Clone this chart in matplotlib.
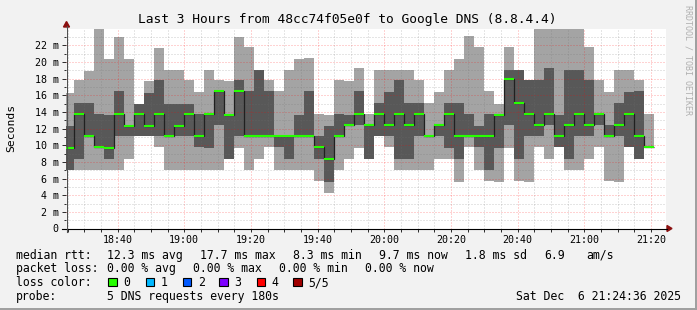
import numpy as np
import matplotlib
matplotlib.use("Agg")
import matplotlib.pyplot as plt
from matplotlib.patches import Rectangle, Polygon
from matplotlib.lines import Line2D

# ---------------- data ----------------
title = "Last 3 Hours from 48cc74f05e0f to Google DNS (8.8.4.4)"
window_start = "18:24:36"      # left edge of the graph
window_minutes = 180
first_step_start = "18:24:00"  # start of first (partially visible) 180 s step
step_minutes = 3

# five sorted DNS round-trip times per 180 s step, in ms (ping3 = median)
ping1 = [7.0, 7.0, 7.0, 7.0, 7.0, 7.0, 8.4, 11.1, 11.1, 9.8,
         7.0, 7.0, 7.0, 7.0, 7.0, 7.0, 8.4, 9.7, 7.0, 8.4,
         9.8, 7.0, 7.0, 7.0, 7.0, 5.7, 4.3, 7.0, 8.4, 9.7,
         8.4, 11.1, 9.8, 7.0, 7.0, 7.0, 7.0, 8.4, 8.4, 5.6,
         9.8, 7.0, 5.7, 5.6, 9.7, 5.7, 5.6, 9.8, 8.4, 9.8,
         7.0, 7.0, 8.4, 9.8, 5.7, 5.6, 9.8, 8.4, 9.8]
ping2 = [7.0, 8.4, 11.1, 9.8, 8.4, 11.1, 11.1, 11.1, 11.1, 11.1,
         11.1, 11.1, 11.1, 9.8, 9.7, 12.4, 8.4, 11.1, 11.1, 11.1,
         11.1, 9.8, 8.4, 11.1, 11.1, 8.4, 5.6, 11.1, 12.4, 12.4,
         8.4, 11.1, 11.1, 8.4, 8.4, 11.1, 11.1, 11.1, 9.7, 8.4,
         11.1, 9.8, 7.0, 9.7, 12.4, 8.4, 11.1, 11.1, 12.4, 9.8,
         8.4, 11.1, 11.1, 12.4, 11.1, 11.1, 9.8, 8.4, 9.8]
ping3 = [9.7, 13.8, 11.1, 9.8, 9.7, 13.8, 12.3, 13.8, 12.3, 13.8,
         11.1, 12.3, 13.8, 11.1, 13.7, 16.5, 13.6, 16.5, 11.1, 11.1,
         11.1, 11.1, 11.1, 11.1, 11.1, 9.8, 8.4, 11.1, 12.4, 13.8,
         12.4, 13.8, 12.4, 13.8, 12.4, 13.8, 11.1, 12.4, 13.8, 11.1,
         11.1, 11.1, 11.1, 13.6, 17.9, 15.1, 13.8, 12.4, 13.8, 11.1,
         12.4, 13.8, 12.4, 13.8, 11.1, 12.4, 13.8, 11.1, 9.8]
ping4 = [12.3, 15.1, 15.1, 13.7, 13.6, 16.5, 12.3, 15.0, 16.3, 17.8,
         15.0, 15.0, 15.0, 13.8, 13.7, 16.5, 13.6, 17.8, 16.5, 19.0,
         16.5, 11.1, 11.1, 13.6, 16.5, 11.1, 12.3, 13.8, 13.6, 16.5,
         12.4, 15.1, 16.4, 17.8, 15.1, 15.1, 11.1, 12.4, 15.1, 15.1,
         13.8, 12.3, 13.8, 13.6, 19.0, 19.0, 17.8, 17.8, 19.3, 13.6,
         19.0, 19.0, 17.8, 13.8, 12.4, 15.1, 16.4, 16.5, 9.8]
ping5 = [16.3, 17.8, 18.9, 25.0, 20.3, 23.0, 20.4, 15.0, 17.7, 21.7,
         19.0, 19.0, 17.8, 16.4, 19.0, 17.8, 17.7, 23.0, 21.8, 19.0,
         17.8, 16.5, 19.0, 20.4, 20.5, 13.8, 13.6, 17.8, 17.7, 19.3,
         13.8, 19.0, 19.0, 19.0, 19.0, 17.8, 15.1, 16.4, 19.0, 20.4,
         23.1, 21.8, 16.5, 15.0, 21.8, 19.0, 17.8, 25.0, 25.0, 25.0,
         25.0, 25.0, 21.8, 17.8, 16.4, 19.0, 19.0, 17.8, 13.8]

time_labels = ["18:40", "19:00", "19:20", "19:40", "20:00",
               "20:20", "20:40", "21:00", "21:20"]
y_ticks = [0, 2, 4, 6, 8, 10, 12, 14, 16, 18, 20, 22]
y_tick_labels = ["0", "2 m", "4 m", "6 m", "8 m", "10 m", "12 m",
                 "14 m", "16 m", "18 m", "20 m", "22 m"]
y_max = 24

rtt_line = ["median rtt:", "12.3 ms avg", "17.7 ms max", "8.3 ms min",
            "9.7 ms now", "1.8 ms sd", "6.9", "am/s"]
loss_line = ["packet loss:", "0.00 % avg", "0.00 % max", "0.00 % min", "0.00 % now"]
loss_labels = ["0", "1", "2", "3", "4", "5/5"]
loss_colors = ["#26ff00", "#00b8ff", "#0059ff", "#7e00ff", "#ff0000", "#a10000"]
probe_text = "5 DNS requests every 180s"
date_text = "Sat Dec  6 21:24:36 2025"
side_text = "RRDTOOL / TOBI OETIKER"

# ---------------- helpers ----------------
def to_min(hhmm):
    parts = [int(p) for p in hhmm.split(":")]
    while len(parts) < 3:
        parts.append(0)
    return (parts[0] - 18) * 60 + parts[1] + parts[2] / 60.0

W, H = 697, 310
def fx(px): return px / W
def fy(py): return 1 - py / H

plt.rcParams['font.family'] = ['DejaVu Sans Mono']

fig = plt.figure(figsize=(W / 100, H / 100), dpi=100, facecolor="#f2f2f2")

x0 = to_min(window_start)
plot_left, plot_w = 66.17, 600.0
y_bot, px_per_ms = 228.5, 8.333
ax = fig.add_axes([fx(plot_left), fy(y_bot), plot_w / W, y_max * px_per_ms / H])
ax.set_xlim(x0, x0 + window_minutes)
ax.set_ylim(0, y_max)
ax.set_facecolor("white")
for s in ax.spines.values():
    s.set_visible(False)

n = len(ping3)
edges = to_min(first_step_start) + step_minutes * np.arange(n + 1)

# smoke
ax.stairs(ping5, edges, baseline=ping1, fill=True, color="#a4a4a4",
          lw=0, antialiased=False, zorder=1)
ax.stairs(ping4, edges, baseline=ping2, fill=True, color="#585858",
          lw=0, antialiased=False, zorder=1.1)

# grid
dot = (0, (1, 2))
gx_minor = np.arange(25, x0 + window_minutes, 5)
major_x = [to_min(t) for t in time_labels]
for m in gx_minor:
    if any(abs(m - mm) < 1e-6 for mm in major_x):
        continue
    ax.axvline(m, color="#707070", alpha=0.35, lw=0.72, ls=dot, zorder=2)
for m in major_x:
    ax.axvline(m, color="#ff0000", alpha=0.35, lw=0.72, ls=dot, zorder=2)
for v in range(1, y_max):
    if v % 2:
        ax.axhline(v, color="#707070", alpha=0.35, lw=0.72, ls=dot, zorder=2)
    else:
        ax.axhline(v, color="#ff0000", alpha=0.35, lw=0.72, ls=dot, zorder=2)

# median
ax.stairs(ping3, edges, baseline=None, color="#202020", lw=0.9, zorder=3)
ax.hlines(ping3, edges[:-1], edges[1:], colors=loss_colors[0], lw=1.5, zorder=4)

# ticks
ax.set_xticks(major_x)
ax.set_xticklabels(time_labels)
ax.set_xticks(gx_minor, minor=True)
ax.set_yticks(y_ticks)
ax.set_yticklabels(y_tick_labels)
ax.set_yticks(range(1, y_max, 2), minor=True)
ax.tick_params(axis="x", which="both", length=2, width=0.72, color="#303030",
               labelsize=7.2, pad=2.5, direction="out")
ax.tick_params(axis="y", which="major", length=3, width=0.72, color="#303030",
               labelsize=7.2, pad=2.5, direction="out")
ax.tick_params(axis="y", which="minor", length=1.5, width=0.72, color="#303030",
               direction="out")

# axes lines and arrows
fig.add_artist(Line2D([fx(62), fx(667)], [fy(228.5), fy(228.5)], color="#000000", lw=0.8))
fig.add_artist(Line2D([fx(66.5), fx(66.5)], [fy(232), fy(26)], color="#505050", lw=0.8))
fig.add_artist(Polygon([[fx(667), fy(225.5)], [fx(667), fy(231.5)], [fx(672), fy(228.5)]],
                       closed=True, color="#8b1010", transform=fig.transFigure))
fig.add_artist(Polygon([[fx(63.5), fy(27)], [fx(69.5), fy(27)], [fx(66.5), fy(21.5)]],
                       closed=True, color="#8b1010", transform=fig.transFigure))

# title and labels
fig.text(fx(347.2), fy(23.3), title, ha="center", va="baseline", fontsize=9.3, color="#000000")
fig.text(fx(11), fy(128), "Seconds", rotation=90, ha="center", va="center", fontsize=8.2)
fig.text(fx(688), fy(60), side_text, rotation=-90, ha="center", va="center",
         fontsize=6, color="#b0b0b0")

fs = 8.3
rtt_x = [16, 107.3, 200, 293.3, 379.3, 465.3, 544, 586]
for t, xp in zip(rtt_line, rtt_x):
    fig.text(fx(xp), fy(258.7), t, ha="left", va="baseline", fontsize=fs)
loss_x = [16, 107.3, 193.3, 279.3, 365]
for t, xp in zip(loss_line, loss_x):
    fig.text(fx(xp), fy(272.2), t, ha="left", va="baseline", fontsize=fs)
fig.text(fx(16), fy(286), "loss color:", ha="left", va="baseline", fontsize=fs)
box_x = [108.3, 145.7, 182.7, 219.3, 256.7, 293.3]
for lab, col, bx in zip(loss_labels, loss_colors, box_x):
    fig.add_artist(Rectangle((fx(bx), fy(286)), 8.3 / W, 8.3 / H, transform=fig.transFigure,
                             facecolor=col, edgecolor="#000000", lw=0.8))
    fig.text(fx(bx + 15), fy(286), lab, ha="left", va="baseline", fontsize=fs)
fig.text(fx(16), fy(299.8), "probe:", ha="left", va="baseline", fontsize=fs)
fig.text(fx(107.3), fy(299.8), probe_text, ha="left", va="baseline", fontsize=fs)
fig.text(fx(680.5), fy(299.8), date_text, ha="right", va="baseline", fontsize=fs)

# frame shading
fig.add_artist(Rectangle((fx(694.5), 0), 2.5 / W, 1, transform=fig.transFigure,
                         facecolor="#a0a0a0", lw=0))
fig.add_artist(Rectangle((0, 0), 1, 2.5 / H, transform=fig.transFigure,
                         facecolor="#a0a0a0", lw=0))

fig.savefig("out.png", dpi=100, facecolor=fig.get_facecolor())
